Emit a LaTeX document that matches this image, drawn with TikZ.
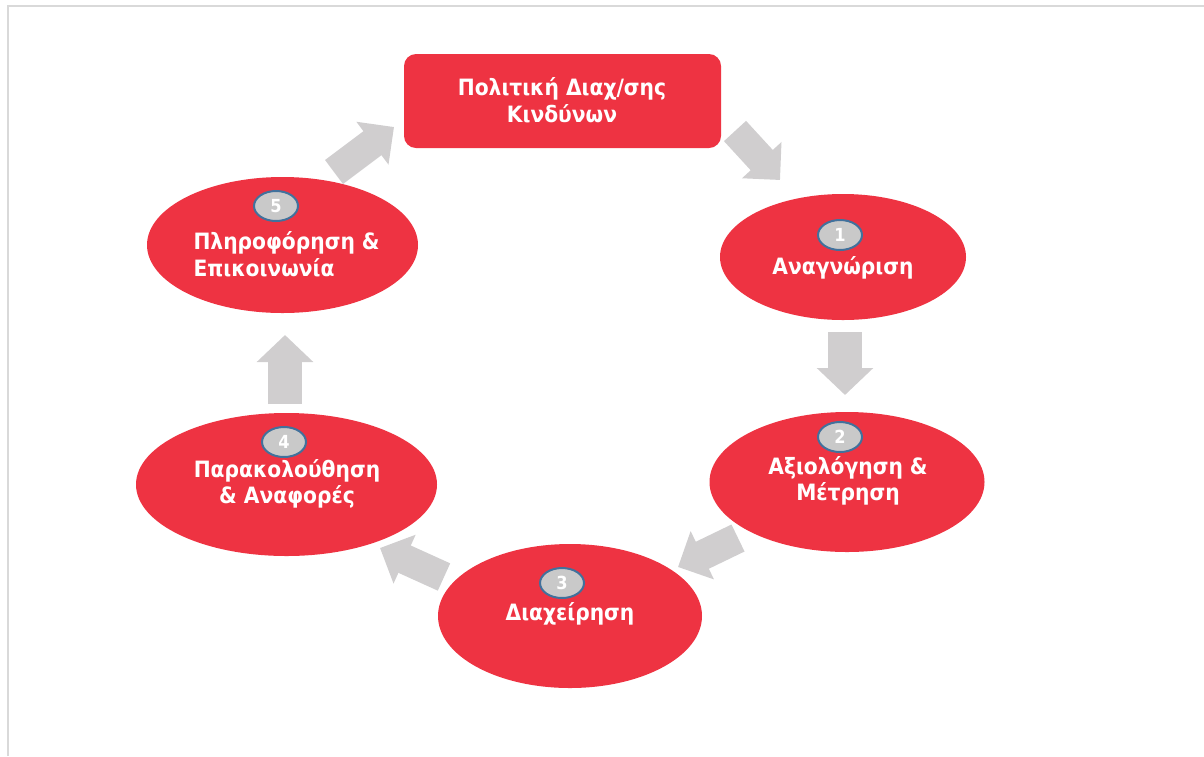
\documentclass[tikz,border=0pt]{standalone}
\usepackage{fontspec}
\setmainfont{DejaVu Sans Condensed}
\usetikzlibrary{shapes.geometric,arrows.meta}
\definecolor{rred}{HTML}{EE3342}
\definecolor{agray}{HTML}{D0CECF}
\definecolor{bgray}{HTML}{C9C9C9}
\definecolor{bblue}{HTML}{41719C}
\definecolor{frame}{HTML}{D9D9D9}
\tikzset{
  redell/.style={ellipse, fill=rred, draw=none, inner sep=0pt},
  badge/.style={ellipse, fill=bgray, draw=bblue, line width=2pt, inner sep=0pt,
    minimum width=44pt, minimum height=30pt, text=white, font=\bfseries\fontsize{18}{18}\selectfont},
  lbl/.style={text=white, align=center, font=\bfseries\fontsize{22.5}{26.5}\selectfont},
  blockv/.style={draw=agray, line width=34pt, -{Triangle[length=27pt,width=55pt]}},
  blockd/.style={draw=agray, line width=30pt, -{Triangle[length=27pt,width=52pt]}},
}
\begin{document}
\begin{tikzpicture}[x=1pt,y=-1pt]
\useasboundingbox (0,0) rectangle (1204,756);
\draw[frame, line width=2pt] (8,756) -- (8,6) -- (1204,6);

% top box
\node[fill=rred, rounded corners=12pt, minimum width=317pt, minimum height=94pt, inner sep=0pt] (pol) at (562.5,101) {};
\node[lbl] (poltxt) at (562,100) {Πολιτική Διαχ/σης\\Κινδύνων};

% ellipses
\node[redell, minimum width=246pt, minimum height=126pt] (e1) at (843,257) {};
\node[redell, minimum width=275pt, minimum height=140pt] (e2) at (847,482) {};
\node[redell, minimum width=264pt, minimum height=144pt] (e3) at (570,616) {};
\node[redell, minimum width=301pt, minimum height=143pt] (e4) at (286.5,484.5) {};
\node[redell, minimum width=271pt, minimum height=136pt] (e5) at (282.5,245) {};

% badges
\node[badge] (b1) at (840,235) {1};
\node[badge] (b2) at (840,437) {2};
\node[badge] (b3) at (562,583) {3};
\node[badge] (b4) at (284,442) {4};
\node[badge] (b5) at (276,206) {5};

% labels
\node[lbl] (t1) at (843,268) {Αναγνώριση};
\node[lbl] (t2) at (848,481) {Αξιολόγηση \&\\Μέτρηση};
\node[lbl] (t3) at (570,614) {Διαχείρηση};
\node[lbl] (t4) at (287,484) {Παρακολούθηση\\\& Αναφορές};
\node[lbl, align=left, anchor=west] (t5) at (190,254) {Πληροφόρηση \&\\ Επικοινωνία};

% arrow coordinates
\coordinate (a0s) at (735,131); \coordinate (a0e) at (780,180);
\coordinate (a1s) at (845,332); \coordinate (a1e) at (845,395);
\coordinate (a2s) at (738,538); \coordinate (a2e) at (678,567);
\coordinate (a3s) at (444,577); \coordinate (a3e) at (380,548);
\coordinate (a4s) at (285,404); \coordinate (a4e) at (285,335);
\coordinate (a5s) at (334,172); \coordinate (a5e) at (394,127);

\draw[blockd] (a0s) -- (a0e);
\draw[blockv] (a1s) -- (a1e);
\draw[blockd] (a2s) -- (a2e);
\draw[blockd] (a3s) -- (a3e);
\draw[blockv] (a4s) -- (a4e);
\draw[blockd] (a5s) -- (a5e);
\end{tikzpicture}
\end{document}
